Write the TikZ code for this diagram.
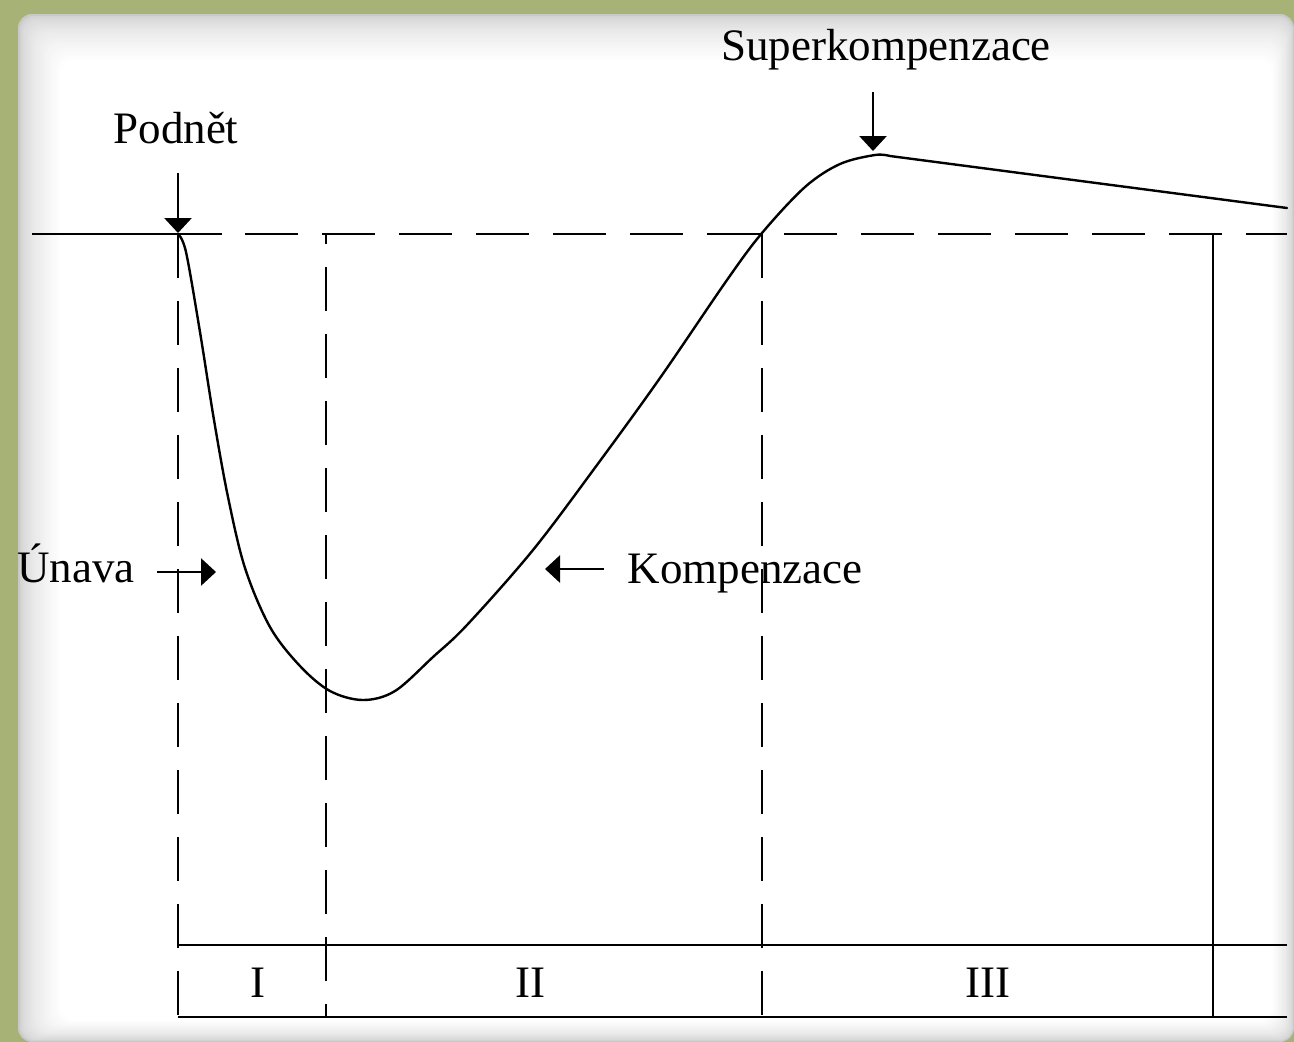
\documentclass[tikz,border=0pt]{standalone}
\usepackage{fontspec}
\setmainfont{Liberation Serif}
\usetikzlibrary{arrows.meta}
\definecolor{framegreen}{RGB}{166,178,118}
\definecolor{edgegray}{RGB}{200,200,200}
\begin{document}
\begin{tikzpicture}[x=1pt,y=-1pt,
  lbl/.style={font=\fontsize{45}{50}\selectfont, inner sep=0pt, anchor=base},
  ln/.style={line width=2.8pt},
  hdsh/.style={ln, dash pattern=on 53pt off 24pt},
  vdsh/.style={ln, dash pattern=on 44pt off 23pt},
  arr/.style={line width=2.8pt, -{Triangle[width=27pt,length=15pt]}},
  curvestyle/.style={line width=2.4pt, line join=round, line cap=round}]
\useasboundingbox (0,0) rectangle (1294,1042);
% background frame and panel
\fill[framegreen] (0,0) rectangle (1294,1042);
\foreach \i in {0,...,24}{
  \pgfmathsetmacro\c{100*sqrt(\i/24)}
  \pgfmathsetmacro\l{18+1.8*\i}
  \pgfmathsetmacro\t{14+1.9*\i}
  \pgfmathsetmacro\r{1294-0.9*\i}
  \pgfmathsetmacro\b{1042-0.9*\i}
  \fill[white!\c!edgegray, rounded corners=14pt] (\l,\t) rectangle (\r,\b);
}
% coordinates
\coordinate (h0) at (32,234);
\coordinate (h1) at (222,234);
\coordinate (h2) at (245,234);
\coordinate (h3) at (1287,234);
\coordinate (v1t) at (178,234);
\coordinate (v1b) at (178,1017);
\coordinate (v2t) at (326,234);
\coordinate (v2b) at (326,1017);
\coordinate (v3t) at (762,234);
\coordinate (v3b) at (762,1017);
\coordinate (v4t) at (1213,234);
\coordinate (v4b) at (1213,1017);
\coordinate (t1l) at (178,945);
\coordinate (t1r) at (1287,945);
\coordinate (t2l) at (178,1017);
\coordinate (t2r) at (1287,1017);
% baseline
\draw[ln] (h0) -- (h1);
\draw[hdsh] (h2) -- (h3);
% vertical lines
\draw[vdsh] (v1t) -- (v1b);
\draw[vdsh, dash phase=34pt] (v2t) -- (v2b);
\draw[vdsh] (v3t) -- (v3b);
\draw[ln] (v4t) -- (v4b);
% table
\draw[ln] (t1l) -- (t1r);
\draw[ln] (t2l) -- (t2r);
\node[lbl] (n1) at (258,997) {I};
\node[lbl] (n2) at (530,997) {II};
\node[lbl] (n3) at (988,997) {III};
% curve
\coordinate (cend) at (1287,208);
\draw[curvestyle] plot[smooth, tension=0.55] coordinates {
 (178,234) (186,252) (200,332) (214,420) (228,497) (245,568) (270,627)
 (300,666) (330,691) (363,700) (395,691) (433,657) (467,625) (533,550)
 (597,465) (660,378) (727,280) (762,233) (805,187) (840,164) (875,155) (890,156)}
 -- (cend);
% labels and arrows
\node[lbl] (podnet) at (176,143) {Podnět};
\coordinate (pa) at (178,173);
\coordinate (pb) at (178,233);
\draw[arr] (pa) -- (pb);
\node[lbl] (super) at (886,60) {Superkompenzace};
\coordinate (sa) at (873,92);
\coordinate (sb) at (873,151);
\draw[arr] (sa) -- (sb);
\node[lbl] (unava) at (76,582) {Únava};
\coordinate (ua) at (157,572);
\coordinate (ub) at (216,572);
\draw[arr] (ua) -- (ub);
\node[lbl] (komp) at (745,583) {Kompenzace};
\coordinate (ka) at (604,569);
\coordinate (kb) at (545,569);
\draw[arr] (ka) -- (kb);
\end{tikzpicture}
\end{document}
